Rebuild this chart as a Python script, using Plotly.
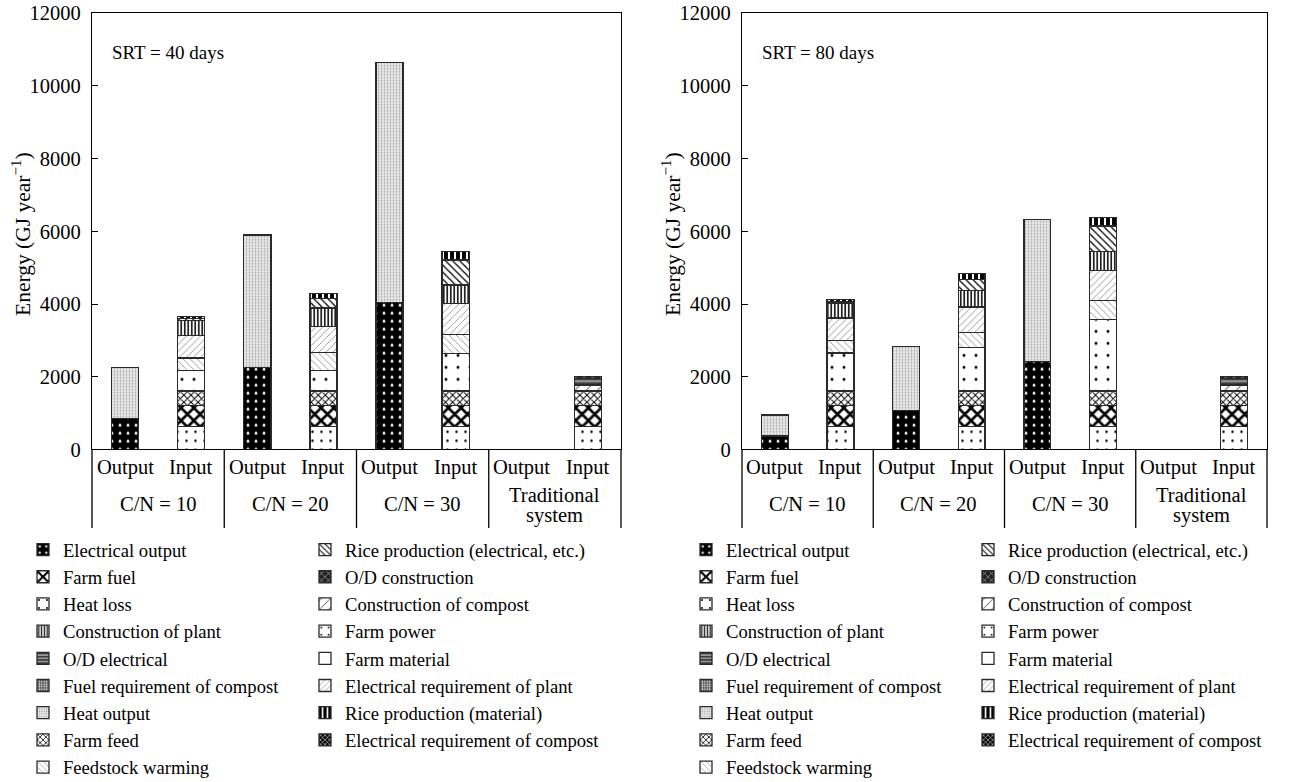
import plotly.graph_objects as go

W, H = 1308, 782
FONT = "Liberation Serif"

# ---------------- data ----------------
categories = ["C/N = 10", "C/N = 20", "C/N = 30", "Traditional<br>system"]
bar_labels = ["Output", "Input"]
chart_titles = ["SRT = 40 days", "SRT = 80 days"]
y_title = "Energy (GJ year<sup>\u22121</sup>)"

# SRT = 40 days -- output bars
srt40_electrical_output = [860, 2250, 4050, None]
srt40_heat_output = [1390, 3650, 6600, None]
# SRT = 40 days -- input bars
srt40_farm_power = [635, 635, 635, 635]
srt40_farm_fuel = [570, 570, 570, 570]
srt40_farm_feed = [400, 400, 400, 400]
srt40_heat_loss = [570, 570, 1035, None]
srt40_feedstock_warming = [340, 500, 525, None]
srt40_elec_req_plant = [615, 715, 840, None]
srt40_construction_plant = [410, 500, 515, None]
srt40_rice_prod_elec = [70, 260, 690, None]
srt40_rice_prod_material = [50, 140, 230, None]
srt40_construction_compost = [None, None, None, 165]
srt40_od_electrical = [None, None, None, 190]
srt40_od_construction = [None, None, None, 50]
srt40_farm_material = [None, None, None, None]
srt40_fuel_req_compost = [None, None, None, None]
srt40_elec_req_compost = [None, None, None, None]

# SRT = 80 days -- output bars
srt80_electrical_output = [365, 1080, 2410, None]
srt80_heat_output = [580, 1760, 3920, None]
# SRT = 80 days -- input bars
srt80_farm_power = [635, 635, 635, 635]
srt80_farm_fuel = [570, 570, 570, 570]
srt80_farm_feed = [400, 400, 400, 400]
srt80_heat_loss = [1045, 1200, 1970, None]
srt80_feedstock_warming = [350, 410, 530, None]
srt80_elec_req_plant = [615, 705, 825, None]
srt80_construction_plant = [415, 460, 525, None]
srt80_rice_prod_elec = [45, 300, 690, None]
srt80_rice_prod_material = [55, 155, 230, None]
srt80_construction_compost = [None, None, None, 165]
srt80_od_electrical = [None, None, None, 190]
srt80_od_construction = [None, None, None, 50]
srt80_farm_material = [None, None, None, None]
srt80_fuel_req_compost = [None, None, None, None]
srt80_elec_req_compost = [None, None, None, None]

output_series = {
    40: [("Electrical output", srt40_electrical_output), ("Heat output", srt40_heat_output)],
    80: [("Electrical output", srt80_electrical_output), ("Heat output", srt80_heat_output)],
}
input_series = {
    40: [("Farm power", srt40_farm_power), ("Farm fuel", srt40_farm_fuel),
         ("Farm feed", srt40_farm_feed), ("Heat loss", srt40_heat_loss),
         ("Feedstock warming", srt40_feedstock_warming),
         ("Electrical requirement of plant", srt40_elec_req_plant),
         ("Construction of plant", srt40_construction_plant),
         ("Rice production (electrical, etc.)", srt40_rice_prod_elec),
         ("Rice production (material)", srt40_rice_prod_material),
         ("Construction of compost", srt40_construction_compost),
         ("O/D electrical", srt40_od_electrical),
         ("O/D construction", srt40_od_construction),
         ("Farm material", srt40_farm_material),
         ("Fuel requirement of compost", srt40_fuel_req_compost),
         ("Electrical requirement of compost", srt40_elec_req_compost)],
    80: [("Farm power", srt80_farm_power), ("Farm fuel", srt80_farm_fuel),
         ("Farm feed", srt80_farm_feed), ("Heat loss", srt80_heat_loss),
         ("Feedstock warming", srt80_feedstock_warming),
         ("Electrical requirement of plant", srt80_elec_req_plant),
         ("Construction of plant", srt80_construction_plant),
         ("Rice production (electrical, etc.)", srt80_rice_prod_elec),
         ("Rice production (material)", srt80_rice_prod_material),
         ("Construction of compost", srt80_construction_compost),
         ("O/D electrical", srt80_od_electrical),
         ("O/D construction", srt80_od_construction),
         ("Farm material", srt80_farm_material),
         ("Fuel requirement of compost", srt80_fuel_req_compost),
         ("Electrical requirement of compost", srt80_elec_req_compost)],
}

legend_col1 = ["Electrical output", "Farm fuel", "Heat loss", "Construction of plant",
               "O/D electrical", "Fuel requirement of compost", "Heat output",
               "Farm feed", "Feedstock warming"]
legend_col2 = ["Rice production (electrical, etc.)", "O/D construction",
               "Construction of compost", "Farm power", "Farm material",
               "Electrical requirement of plant", "Rice production (material)",
               "Electrical requirement of compost"]

# ---------------- styles ----------------
styles = {
    "Electrical output": dict(shape=".", bg="black", fg="white", size=8, sol=0.1),
    "Heat output": dict(shape=".", bg="#ececec", fg="#a8a8a8", size=3, sol=0.3),
    "Farm power": dict(shape=".", bg="white", fg="black", size=9, sol=0.06),
    "Farm fuel": dict(shape="x", bg="white", fg="black", size=9, sol=0.5),
    "Farm feed": dict(shape="x", bg="white", fg="black", size=5, sol=0.35),
    "Heat loss": dict(shape=".", bg="white", fg="black", size=12, sol=0.05),
    "Feedstock warming": dict(shape="\\", bg="white", fg="#808080", size=5, sol=0.15),
    "Electrical requirement of plant": dict(shape="/", bg="white", fg="#808080", size=5, sol=0.15),
    "Construction of plant": dict(shape="|", bg="white", fg="#222222", size=3.5, sol=0.5),
    "Rice production (electrical, etc.)": dict(shape="\\", bg="white", fg="black", size=5, sol=0.25),
    "Rice production (material)": dict(shape="|", bg="black", fg="white", size=6, sol=0.35),
    "Construction of compost": dict(shape="/", bg="white", fg="black", size=8, sol=0.1),
    "O/D electrical": dict(shape="-", bg="#999999", fg="black", size=4, sol=0.3),
    "O/D construction": dict(shape="x", bg="#222222", fg="white", size=6, sol=0.15),
    "Farm material": dict(shape="", bg="white", fg="black", size=8, sol=0.2),
    "Fuel requirement of compost": dict(shape=".", bg="#555555", fg="white", size=3, sol=0.3),
    "Electrical requirement of compost": dict(shape="x", bg="black", fg="white", size=4, sol=0.3),
}

# ---------------- geometry ----------------
y_bottom_px, y_top_px = 449.4, 13.3
plot_h = y_bottom_px - y_top_px
y_dom = [1 - y_bottom_px / H, 1 - y_top_px / H]
x_doms = [[92 / W, 621 / W], [742 / W, 1267 / W]]
y_title_x_px = [22, 672]
legend_x_px = [[23, 305], [686, 968]]
legend_top_px = 531
BAR_W = 0.41
TXT = 20.5

fig = go.Figure()

for ci, srt in enumerate([40, 80]):
    xa = "x" if ci == 0 else "x2"
    ya = "y" if ci == 0 else "y2"
    leg1 = "legend" if ci == 0 else "legend3"
    leg2 = "legend2" if ci == 0 else "legend4"
    out_x = [2 * i for i in range(len(categories))]
    in_x = [2 * i + 1 for i in range(len(categories))]
    for name, vals in output_series[srt] + input_series[srt]:
        st = styles[name]
        xs = out_x if name in ("Electrical output", "Heat output") else in_x
        leg = leg1 if name in legend_col1 else leg2
        rank = (legend_col1.index(name) if name in legend_col1 else legend_col2.index(name)) + 1
        fig.add_trace(go.Bar(
            x=xs, y=vals, name=name, xaxis=xa, yaxis=ya, width=BAR_W,
            legend=leg, legendrank=rank,
            marker=dict(color=st["bg"], line=dict(color="#2a2a2a", width=1.3),
                        pattern=dict(shape=st["shape"], bgcolor=st["bg"], fgcolor=st["fg"],
                                     size=st["size"], solidity=st["sol"], fillmode="replace")),
            hoverinfo="name+y",
        ))

axis_common = dict(showline=True, linecolor="black", linewidth=1.3, mirror=True,
                   zeroline=False, showgrid=False, automargin=False)
layout = dict(
    width=W, height=H, barmode="stack", plot_bgcolor="white", paper_bgcolor="white",
    margin=dict(l=0, r=0, t=0, b=0, autoexpand=False),
    font=dict(family=FONT, size=TXT, color="black"),
)
for ci in range(2):
    sfx = "" if ci == 0 else "2"
    layout["xaxis" + sfx] = dict(domain=x_doms[ci], range=[-0.5, 7.5], showticklabels=False,
                                 ticks="", anchor="y" + sfx, **axis_common)
    layout["yaxis" + sfx] = dict(domain=y_dom, range=[0, 12000], dtick=2000, tickformat="d",
                                 ticks="inside", ticklabelstandoff=6,
                                 ticklen=6, tickwidth=1.2, tickcolor="black", anchor="x" + sfx,
                                 tickfont=dict(size=TXT), **axis_common)

for name, (ci, col) in {"legend": (0, 0), "legend2": (0, 1),
                        "legend3": (1, 0), "legend4": (1, 1)}.items():
    layout[name] = dict(x=legend_x_px[ci][col] / W, xref="container", xanchor="left",
                        y=1 - legend_top_px / H, yref="container", yanchor="top",
                        orientation="v", traceorder="normal", bgcolor="rgba(0,0,0,0)",
                        font=dict(family=FONT, size=18.6), tracegroupgap=0,
                        itemclick=False, itemdoubleclick=False)
fig.update_layout(**layout)

# category table below each chart
table_bottom = -(528 - y_bottom_px) / plot_h
shapes, annots = [], []
for ci in range(2):
    sfx = "" if ci == 0 else "2"
    for k in range(len(categories) + 1):
        shapes.append(dict(type="line", xref="x" + sfx + " domain", yref="y" + sfx + " domain",
                           x0=k / len(categories), x1=k / len(categories), y0=0, y1=table_bottom,
                           line=dict(color="black", width=1.3)))
    for i, cat in enumerate(categories):
        for j, lab in enumerate(bar_labels):
            annots.append(dict(text=lab, x=2 * i + j, xref="x" + sfx, y=-(467 - y_bottom_px) / plot_h,
                               yref="y" + sfx + " domain", showarrow=False, yanchor="middle",
                               font=dict(size=TXT)))
        lines = cat.split("<br>")
        centers = [504] if len(lines) == 1 else [495, 515]
        for line_txt, cy in zip(lines, centers):
            annots.append(dict(text=line_txt, x=2 * i + 0.5, xref="x" + sfx,
                               y=-(cy - y_bottom_px) / plot_h,
                               yref="y" + sfx + " domain", showarrow=False, yanchor="middle",
                               font=dict(size=TXT)))
    annots.append(dict(text=chart_titles[ci], x=18 / 529, xref="x" + sfx + " domain",
                       y=1 - (53 - y_top_px) / plot_h, yref="y" + sfx + " domain",
                       xanchor="left", yanchor="middle", showarrow=False, font=dict(size=19)))
    annots.append(dict(text=y_title, x=y_title_x_px[ci] / W, xref="paper",
                       y=1 - 234 / H, yref="paper", textangle=-90, showarrow=False,
                       xanchor="center", yanchor="middle", font=dict(size=21.5)))
fig.update_layout(shapes=shapes, annotations=annots)

fig.write_html("out.html", config={"displayModeBar": False},
               post_script="document.body.style.margin='0px';")
